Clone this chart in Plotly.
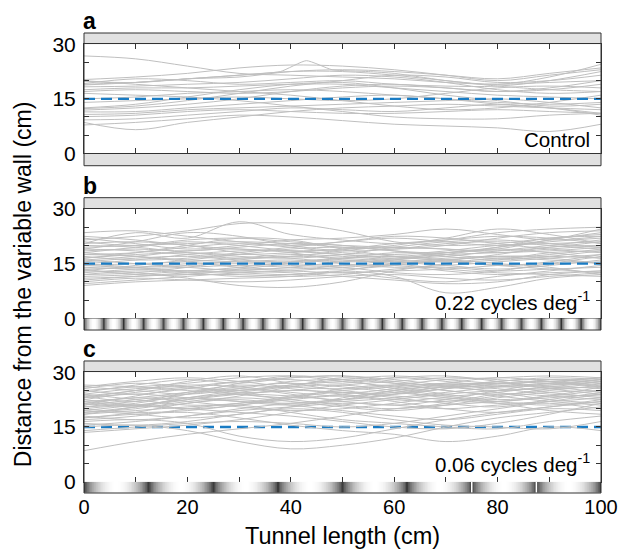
import numpy as np
import plotly.graph_objects as go

# ---------------- data ----------------
X_GRID = [0, 10, 20, 30, 40, 50, 60, 70, 80, 90, 100]

# Panel a (Control) trajectories: distance from wall (cm) at X_GRID
A_TRACKS = [
    [26.8, 26.0, 24.0, 22.0, 21.5, 21.0, 20.5, 19.5, 19.0, 19.5, 20.0],
    [20.3, 21.0, 22.0, 23.5, 24.3, 24.0, 23.0, 21.5, 20.0, 21.5, 23.0],
    [19.8, 19.5, 20.5, 21.5, 22.5, 22.5, 21.5, 20.0, 19.0, 21.0, 24.5],
    [19.2, 20.5, 20.0, 19.0, 19.5, 20.0, 19.0, 18.5, 18.5, 20.0, 22.5],
    [18.3, 18.5, 19.0, 19.5, 20.5, 21.5, 21.0, 19.5, 17.5, 16.5, 17.0],
    [17.5, 18.0, 18.0, 18.5, 19.0, 19.0, 18.0, 17.0, 16.0, 15.5, 15.0],
    [17.0, 17.5, 17.0, 16.5, 17.0, 18.0, 18.5, 18.0, 17.0, 17.5, 19.0],
    [12.3, 13.0, 14.5, 16.5, 18.5, 20.0, 21.5, 21.0, 19.5, 20.0, 21.5],
    [11.9, 12.5, 13.5, 15.0, 17.0, 18.5, 19.0, 18.0, 17.0, 18.0, 20.0],
    [11.4, 11.5, 12.5, 13.5, 14.5, 15.5, 16.0, 15.0, 14.0, 13.5, 14.0],
    [10.7, 11.0, 12.0, 12.5, 13.0, 13.5, 14.0, 14.5, 15.0, 14.0, 12.5],
    [10.1, 10.5, 11.5, 12.0, 11.5, 11.0, 11.0, 11.5, 12.0, 11.5, 11.0],
    [9.2, 9.5, 10.5, 11.5, 12.5, 12.0, 11.5, 12.5, 13.5, 12.5, 10.5],
    [7.8, 8.5, 9.5, 10.5, 10.0, 9.0, 8.0, 7.5, 7.0, 6.0, 8.0],
    [8.5, 6.5, 8.5, 10.0, 11.5, 12.5, 13.0, 13.5, 13.0, 12.5, 12.0],
    [14.0, 14.5, 15.0, 15.5, 15.0, 14.5, 15.0, 16.5, 18.0, 18.5, 18.0],
    [20.0, 19.0, 18.0, 17.0, 16.0, 14.5, 13.0, 12.0, 12.5, 14.0, 16.0],
    [18.8, 19.5, 20.5, 21.0, 22.5, 23.0, 22.5, 21.5, 20.5, 22.0, 23.5],
    [16.5, 16.0, 15.5, 14.5, 13.0, 11.5, 10.0, 9.5, 9.5, 10.5, 11.0],
    [12.5, 13.5, 15.5, 17.5, 19.0, 19.5, 18.0, 16.0, 14.5, 13.0, 13.5],
    [15.0, 15.5, 16.5, 17.0, 17.5, 17.0, 16.0, 15.0, 13.5, 12.5, 11.0],
]
A_SPIKE_X = [0, 10, 20, 30, 38, 43, 48, 55, 60, 70, 80, 90, 100]
A_SPIKE_Y = [19.0, 19.5, 20.5, 21.5, 22.5, 25.5, 23.0, 22.5, 22.0, 20.0, 18.5, 17.5, 17.0]

# Panel b (0.22 cycles/deg)
B_TRACKS = [
    [21.5, 22.5, 24.0, 26.0, 26.0, 24.0, 21.0, 20.0, 20.5, 22.0, 23.0],
    [20.5, 23.5, 22.0, 26.5, 23.0, 21.5, 20.5, 21.5, 23.5, 24.5, 25.0],
    [22.0, 20.5, 19.0, 20.0, 21.5, 22.0, 23.0, 24.5, 23.0, 21.5, 22.5],
    [19.5, 20.0, 20.5, 21.0, 20.5, 19.5, 19.0, 20.0, 22.0, 23.5, 24.0],
    [18.5, 19.0, 18.5, 19.5, 20.5, 20.0, 18.5, 18.0, 19.5, 21.0, 22.0],
    [17.5, 18.0, 19.5, 20.5, 19.5, 18.0, 17.5, 18.5, 20.0, 20.5, 21.0],
    [16.5, 17.5, 18.0, 17.5, 18.0, 19.0, 19.5, 19.0, 18.0, 19.0, 20.0],
    [15.5, 16.5, 17.0, 16.0, 15.5, 16.5, 18.0, 17.5, 16.5, 17.5, 19.0],
    [14.5, 15.0, 15.5, 16.5, 17.5, 17.0, 16.0, 15.5, 16.0, 18.0, 18.5],
    [13.5, 14.0, 15.0, 15.5, 16.0, 15.0, 14.0, 14.5, 15.5, 16.5, 17.5],
    [12.5, 13.5, 14.0, 14.5, 14.0, 13.5, 14.5, 16.0, 17.0, 17.0, 16.5],
    [11.5, 12.0, 13.0, 13.5, 13.0, 12.5, 13.0, 13.5, 14.5, 15.0, 15.5],
    [10.5, 11.5, 12.0, 12.0, 11.5, 12.0, 13.5, 14.0, 13.0, 13.5, 14.0],
    [9.5, 10.5, 11.5, 12.5, 13.0, 14.0, 14.5, 13.0, 12.0, 12.5, 13.0],
    [9.0, 10.0, 10.5, 11.0, 11.5, 13.0, 15.0, 16.0, 15.0, 14.0, 12.0],
    [13.0, 12.5, 11.0, 9.0, 8.5, 10.0, 13.0, 15.0, 16.5, 16.0, 15.0],
    [14.0, 13.5, 13.0, 12.5, 12.0, 13.0, 11.5, 7.0, 8.5, 11.0, 12.0],
    [16.0, 15.0, 14.0, 13.0, 12.5, 11.5, 10.5, 9.5, 10.0, 12.0, 13.0],
    [18.0, 17.0, 16.0, 15.5, 15.0, 14.5, 15.0, 15.5, 14.5, 13.5, 12.5],
    [20.0, 19.5, 18.0, 17.0, 16.5, 17.5, 19.5, 21.0, 21.5, 20.5, 19.5],
    [17.0, 16.0, 16.5, 18.0, 19.5, 21.0, 22.5, 22.0, 20.5, 19.0, 18.0],
    [15.0, 16.0, 17.5, 18.5, 18.5, 17.5, 16.5, 17.0, 18.5, 20.0, 21.5],
    [12.0, 12.5, 14.0, 16.0, 17.0, 16.5, 15.5, 14.5, 13.5, 14.5, 16.0],
    [19.0, 18.5, 17.5, 16.5, 17.0, 18.5, 20.0, 22.0, 24.5, 23.0, 20.5],
    [21.0, 20.0, 21.5, 22.0, 21.0, 20.0, 19.5, 19.0, 18.5, 19.5, 21.0],
    [14.5, 14.0, 14.5, 15.0, 14.5, 14.0, 12.5, 12.0, 13.0, 15.0, 17.0],
    [16.0, 17.0, 18.5, 19.0, 18.0, 16.0, 15.5, 16.5, 17.0, 16.5, 15.0],
    [13.0, 14.5, 16.0, 17.5, 19.0, 19.5, 18.5, 17.0, 16.0, 17.0, 18.5],
    [11.0, 11.5, 12.5, 13.0, 14.0, 15.5, 16.5, 17.5, 18.0, 18.5, 19.5],
    [18.0, 19.5, 21.0, 20.0, 18.5, 17.5, 17.0, 18.0, 19.0, 21.5, 23.5],
    [10.0, 11.0, 10.5, 10.0, 10.5, 11.5, 12.0, 11.0, 10.5, 11.5, 12.5],
    [22.5, 21.5, 20.0, 19.0, 18.5, 19.0, 20.5, 21.5, 22.5, 22.0, 20.5],
    [23.5, 24.0, 22.5, 21.0, 20.0, 21.0, 22.0, 21.0, 20.0, 21.5, 24.5],
    [19.0, 21.0, 23.5, 22.5, 20.0, 18.5, 19.0, 20.5, 21.0, 20.0, 19.0],
    [15.0, 14.0, 13.0, 14.0, 15.5, 16.5, 17.0, 16.0, 14.5, 15.5, 17.5],
    [17.5, 17.0, 15.5, 14.0, 13.5, 14.5, 16.0, 18.0, 19.0, 18.0, 16.5],
    [12.0, 13.0, 12.5, 11.5, 12.0, 12.5, 11.0, 10.0, 11.5, 13.0, 14.5],
    [20.5, 21.0, 20.0, 18.0, 16.5, 15.5, 16.0, 17.5, 19.5, 22.0, 22.5],
    [13.5, 12.0, 12.0, 13.5, 15.0, 16.0, 15.0, 13.5, 12.5, 12.0, 11.5],
    [16.5, 18.0, 20.0, 22.0, 21.5, 19.0, 17.0, 16.0, 17.5, 19.5, 20.0],
]

# Panel c (0.06 cycles/deg)
C_TRACKS = [
    [8.5, 11.0, 13.0, 14.5, 16.0, 18.0, 20.0, 21.0, 22.0, 23.0, 24.0],
    [13.5, 14.5, 15.5, 17.0, 19.0, 21.0, 22.5, 24.0, 25.0, 25.5, 26.0],
    [15.0, 15.5, 14.0, 11.0, 9.0, 10.0, 12.0, 15.0, 17.5, 19.0, 20.5],
    [16.5, 17.0, 16.0, 12.5, 11.0, 12.0, 14.5, 17.0, 19.0, 20.5, 22.0],
    [17.5, 18.5, 19.0, 17.5, 15.5, 14.0, 13.0, 11.0, 12.5, 15.0, 14.0],
    [18.5, 19.5, 20.5, 21.0, 19.0, 17.0, 16.0, 15.0, 14.5, 16.5, 18.0],
    [19.5, 21.0, 22.5, 24.0, 25.0, 24.5, 23.5, 22.5, 21.5, 22.0, 23.0],
    [20.5, 22.0, 23.0, 22.0, 21.0, 22.5, 25.0, 26.5, 27.0, 26.5, 27.5],
    [21.5, 20.5, 21.5, 23.5, 26.0, 28.5, 27.0, 25.0, 24.0, 25.0, 26.5],
    [22.5, 24.5, 26.0, 27.5, 28.0, 27.0, 28.5, 27.5, 26.0, 26.5, 28.0],
    [23.5, 25.0, 27.5, 29.0, 27.0, 25.0, 24.0, 25.5, 27.5, 28.0, 27.0],
    [24.5, 26.5, 28.0, 27.0, 28.5, 29.0, 27.5, 26.0, 25.0, 26.0, 27.5],
    [25.5, 27.0, 26.0, 25.0, 26.5, 28.0, 29.0, 28.0, 27.0, 27.5, 28.5],
    [26.5, 26.0, 25.0, 24.0, 23.0, 24.0, 25.5, 27.0, 28.5, 27.5, 26.0],
    [20.0, 19.0, 19.5, 21.0, 22.5, 23.5, 22.0, 20.0, 19.0, 20.5, 22.0],
    [19.0, 20.0, 22.0, 23.0, 22.0, 20.5, 19.5, 21.0, 23.0, 24.5, 25.0],
    [17.0, 18.0, 20.0, 21.5, 23.0, 25.5, 26.5, 25.0, 23.5, 22.0, 21.0],
    [22.0, 23.0, 24.5, 26.0, 27.0, 26.0, 24.5, 23.5, 24.5, 26.0, 25.5],
    [24.0, 22.5, 21.0, 21.5, 23.5, 25.0, 26.0, 27.0, 26.5, 24.5, 23.0],
    [21.0, 22.5, 24.0, 25.5, 24.0, 22.0, 21.0, 22.5, 25.0, 27.0, 28.5],
    [18.0, 17.0, 18.0, 19.5, 20.5, 21.5, 21.0, 20.0, 21.0, 21.5, 20.0],
    [16.0, 15.5, 16.5, 18.5, 20.0, 19.0, 17.0, 15.5, 15.0, 14.5, 16.5],
    [23.0, 24.0, 23.0, 22.0, 21.5, 22.0, 23.0, 24.5, 26.0, 28.0, 27.5],
    [25.0, 26.0, 27.0, 28.5, 29.0, 27.5, 26.0, 24.0, 22.5, 23.5, 25.0],
    [20.0, 21.0, 20.0, 19.0, 18.0, 16.5, 15.0, 14.5, 16.0, 18.5, 21.5],
    [14.0, 15.0, 16.0, 16.5, 16.0, 15.0, 16.0, 18.0, 20.0, 22.0, 24.0],
    [22.0, 21.0, 23.0, 25.0, 26.5, 27.5, 28.5, 29.0, 27.5, 25.5, 24.0],
    [19.0, 20.5, 22.5, 24.5, 26.0, 26.5, 25.0, 23.0, 22.0, 23.5, 26.0],
    [26.0, 25.0, 24.0, 25.5, 27.5, 28.0, 27.0, 26.5, 27.5, 28.5, 28.0],
    [21.0, 23.5, 25.5, 24.0, 22.5, 21.0, 20.0, 21.5, 24.0, 23.5, 22.5],
    [17.5, 19.0, 21.5, 22.5, 21.0, 19.5, 18.0, 17.0, 18.5, 20.0, 19.5],
    [23.0, 25.0, 26.5, 26.0, 24.5, 23.5, 24.5, 26.0, 27.0, 27.5, 26.5],
    [24.0, 25.5, 26.0, 24.5, 25.0, 26.5, 27.5, 28.5, 28.0, 27.0, 28.0],
    [20.5, 21.5, 24.0, 27.0, 29.0, 28.0, 25.5, 23.5, 22.0, 21.0, 22.5],
    [22.5, 21.0, 20.0, 21.0, 23.0, 24.5, 23.0, 21.5, 20.5, 22.5, 24.5],
    [18.5, 20.5, 23.0, 24.0, 23.5, 22.5, 24.0, 26.0, 25.5, 24.0, 23.5],
    [25.0, 24.0, 25.5, 27.5, 28.5, 29.0, 28.0, 26.5, 26.0, 27.0, 26.0],
    [15.5, 16.5, 18.0, 20.0, 21.5, 22.5, 24.0, 25.5, 26.5, 26.0, 24.5],
    [21.5, 23.0, 22.0, 20.5, 19.5, 20.0, 21.5, 23.0, 21.5, 19.5, 18.5],
    [26.0, 27.5, 28.5, 27.5, 26.0, 25.5, 26.5, 28.0, 28.5, 29.0, 28.5],
    [19.5, 18.5, 17.5, 18.5, 20.5, 23.0, 25.0, 26.0, 24.5, 22.5, 21.5],
    [23.5, 22.0, 24.5, 26.5, 25.5, 24.0, 22.5, 22.0, 23.5, 25.5, 27.0],
]

MIDLINE = 15
Y_TICKS = [0, 5, 10, 15, 20, 25, 30]
Y_TICK_TEXT = ["0", "", "", "15", "", "", "30"]
X_MINOR_TICKS = [0, 10, 20, 30, 40, 50, 60, 70, 80, 90, 100]
X_LABEL_TICKS = [0, 20, 40, 60, 80, 100]
PANEL_LETTERS = ["a", "b", "c"]
PANEL_LABELS = ["Control", "0.22 cycles deg<sup>-1</sup>", "0.06 cycles deg<sup>-1</sup>"]
GRATING_CYCLES_B = 26
GRATING_CYCLES_C = 8
SEAMS_C = [75, 87.5]

# ---------------- styles ----------------
FONT = "Liberation Sans, Arial, Helvetica, sans-serif"
TRACK_COLOR = "#bfbfbf"
BLUE = "#1a7cc4"
FRAME = "#333333"
BAR = "#e1e1e1"

# layout fractions (paper)
A_DOM = [0.7385, 0.9754]
B_DOM = [0.3798, 0.6174]
C_DOM = [0.0246, 0.2624]
A_TOP, A_BOT = 1.0, 0.7115
B_TOP, B_BOT = 0.6420, 0.3543
C_TOP, C_BOT = 0.2870, 0.0

fig = go.Figure()


def add_mid(xa, ya):
    fig.add_trace(go.Scatter(x=[0, 100], y=[MIDLINE, MIDLINE], mode="lines",
                             line=dict(color=BLUE, width=2.3, dash="11px,6px"),
                             xaxis=xa, yaxis=ya, hoverinfo="skip", showlegend=False))


def add_tracks(tracks, xa, ya):
    for ys in tracks:
        fig.add_trace(go.Scatter(x=X_GRID, y=ys, mode="lines",
                                 line=dict(color=TRACK_COLOR, width=1, shape="spline", smoothing=1.0),
                                 xaxis=xa, yaxis=ya, hoverinfo="skip", showlegend=False))


# panel a
add_tracks(A_TRACKS, "x", "y")
fig.add_trace(go.Scatter(x=A_SPIKE_X, y=A_SPIKE_Y, mode="lines",
                         line=dict(color=TRACK_COLOR, width=1, shape="spline", smoothing=0.5),
                         xaxis="x", yaxis="y", hoverinfo="skip", showlegend=False))
add_mid("x", "y")
# panel b
add_tracks(B_TRACKS, "x2", "y2")
add_mid("x2", "y2")
# panel c
add_mid("x3", "y3")
add_tracks(C_TRACKS, "x3", "y3")


def grating(cycles, n=800):
    edges = np.linspace(0, 100, n + 1)
    centers = (edges[:-1] + edges[1:]) / 2
    lum = np.abs(np.sin(np.pi * cycles * centers / 100.0)) ** 0.6
    return edges, [lum.tolist()]


gs = [[0, "#2a2a2a"], [1, "#ffffff"]]
ex, zb = grating(GRATING_CYCLES_B)
fig.add_trace(go.Heatmap(x=ex, y=[0, 1], z=zb, colorscale=gs, zmin=0, zmax=1, showscale=False,
                         xaxis="x4", yaxis="y4", hoverinfo="skip"))
ex, zc = grating(GRATING_CYCLES_C)
fig.add_trace(go.Heatmap(x=ex, y=[0, 1], z=zc, colorscale=gs, zmin=0, zmax=1, showscale=False,
                         xaxis="x5", yaxis="y5", hoverinfo="skip"))

main_x = dict(range=[0, 100], domain=[0, 1], showgrid=False, zeroline=False,
              showline=True, linecolor=FRAME, linewidth=1, mirror="allticks",
              ticks="inside", ticklen=5, tickcolor=FRAME, tickwidth=1,
              tickvals=X_MINOR_TICKS, showticklabels=False)
main_y = dict(range=[0, 30], showgrid=False, zeroline=False,
              showline=True, linecolor=FRAME, linewidth=1, mirror="allticks",
              ticks="inside", ticklen=5, tickcolor=FRAME, tickwidth=1,
              tickvals=Y_TICKS, ticktext=Y_TICK_TEXT, ticklabelstandoff=3,
              tickfont=dict(family=FONT, size=21, color="black"))

strip_x = dict(range=[0, 100], domain=[0, 1], showgrid=False, zeroline=False,
               showline=False, ticks="", showticklabels=False)
strip_y = dict(range=[0, 1], showgrid=False, zeroline=False, showline=False,
               ticks="", showticklabels=False)

fig.update_layout(
    width=630, height=551,
    margin=dict(l=84, r=18, t=33, b=58),
    paper_bgcolor="white", plot_bgcolor="rgba(0,0,0,0)",
    font=dict(family=FONT, size=20, color="black"),
    showlegend=False,
    xaxis=dict(**main_x, anchor="y"),
    yaxis=dict(**main_y, domain=A_DOM, anchor="x"),
    xaxis2=dict(**main_x, anchor="y2"),
    yaxis2=dict(**main_y, domain=B_DOM, anchor="x2"),
    xaxis3=dict(**main_x, anchor="y3"),
    yaxis3=dict(**main_y, domain=C_DOM, anchor="x3"),
    xaxis4=dict(**strip_x, anchor="y4"),
    yaxis4=dict(**strip_y, domain=[B_BOT, B_DOM[0]], anchor="x4"),
    xaxis5=dict(**{k: v for k, v in strip_x.items() if k != "showticklabels"}, anchor="y5",
                showticklabels=True, tickvals=X_LABEL_TICKS,
                tickfont=dict(family=FONT, size=20, color="black")),
    yaxis5=dict(**strip_y, domain=[C_BOT, C_DOM[0]], anchor="x5"),
)

shapes = []
# grey wall bars
for top, dtop in [(A_TOP, A_DOM[1]), (B_TOP, B_DOM[1]), (C_TOP, C_DOM[1])]:
    shapes.append(dict(type="rect", xref="paper", yref="paper", x0=0, x1=1, y0=dtop, y1=top,
                       fillcolor=BAR, line=dict(width=0), layer="below"))
shapes.append(dict(type="rect", xref="paper", yref="paper", x0=0, x1=1, y0=A_BOT, y1=A_DOM[0],
                   fillcolor=BAR, line=dict(width=0), layer="below"))
# seams in the low-frequency grating
for s in SEAMS_C:
    shapes.append(dict(type="line", xref="x5", yref="y5", x0=s, x1=s, y0=0, y1=1,
                       line=dict(color="white", width=1.5)))
# outer frames
for top, bot in [(A_TOP, A_BOT), (B_TOP, B_BOT), (C_TOP, C_BOT)]:
    shapes.append(dict(type="rect", xref="paper", yref="paper", x0=0, x1=1, y0=bot, y1=top,
                       line=dict(color=FRAME, width=1), fillcolor="rgba(0,0,0,0)"))
fig.update_layout(shapes=shapes)

ann = []
for letter, top in zip(PANEL_LETTERS, [A_TOP, B_TOP, C_TOP]):
    ann.append(dict(text="<b>%s</b>" % letter, xref="paper", yref="paper", x=0, y=top,
                    xanchor="left", yanchor="bottom", xshift=-3, yshift=-3, showarrow=False,
                    font=dict(family=FONT, size=23, color="black")))
for label, (xa, ya), yv in zip(PANEL_LABELS, [("x", "y"), ("x2", "y2"), ("x3", "y3")], [0.0, 0.6, 1.1]):
    ann.append(dict(text=label, xref=xa, yref=ya, x=100, y=yv, xanchor="right", yanchor="bottom",
                    xshift=-9, showarrow=False, font=dict(family=FONT, size=20.5, color="black")))
ann.append(dict(text="Distance from the variable wall (cm)", xref="paper", yref="paper",
                x=-0.119, y=0.455, xanchor="center", yanchor="middle", textangle=-90,
                showarrow=False, font=dict(family=FONT, size=23, color="black")))
ann.append(dict(text="Tunnel length (cm)", xref="paper", yref="paper", x=0.5, y=-0.0935,
                xanchor="center", yanchor="middle", showarrow=False,
                font=dict(family=FONT, size=23.5, color="black")))
fig.update_layout(annotations=ann)

fig.write_html("out.html", config={"displayModeBar": False},
               post_script="document.body.style.margin='0';document.body.style.overflow='hidden';")
